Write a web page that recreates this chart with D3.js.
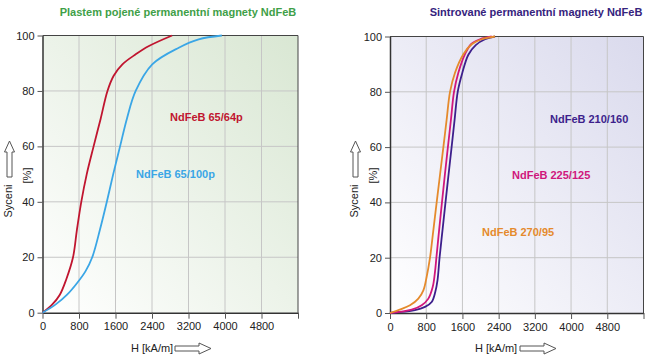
<!DOCTYPE html>
<html>
<head>
<meta charset="utf-8">
<script src="https://cdn.jsdelivr.net/npm/d3@7"></script>
<style>
  body { margin: 0; background: #fff; }
  svg { display: block; font-family: "Liberation Sans", Arial, sans-serif; }
</style>
</head>
<body>
<div id="chart"></div>
<script>
// tick values shared by both panels
var xTicks = [0, 800, 1600, 2400, 3200, 4000, 4800];
var yTicks = [0, 20, 40, 60, 80, 100];

// left panel: bonded magnets
var hRed = [0, 200, 380, 520, 669, 755, 850, 970, 1120, 1275, 1424, 1560, 1751, 2042, 2333, 2841];
var pRed = [0, 2.7, 6.5, 12, 20, 30, 40, 50, 60, 70, 80, 85.5, 89.6, 93.2, 96.2, 100];
var hBlue = [0, 290, 545, 763, 944, 1090, 1260, 1410, 1550, 1700, 1850, 2042, 2405, 2987, 3423, 3931];
var pBlue = [0, 3.0, 6.6, 10.8, 15, 20, 30, 40, 50, 60, 70, 80, 89.6, 95.6, 98.6, 100];

// right panel: sintered magnets
var hOrange = [0, 442, 626, 737, 810, 884, 958, 1031, 1105, 1179, 1252, 1326, 1436, 1621, 1805, 2026, 2320];
var pOrange = [0, 2.8, 5.2, 8.2, 13.1, 20, 30, 40, 50, 60, 70, 80, 86.9, 93.6, 97.2, 99, 100];
var hMagenta = [0, 479, 700, 847, 943, 990, 1025, 1085, 1148, 1212, 1279, 1347, 1414, 1510, 1657, 1790, 1989, 2247];
var pMagenta = [0, 1.2, 2.8, 5.2, 9.4, 14.3, 20, 30, 40, 50, 60, 70, 80, 86.9, 93.6, 97.2, 99, 100];
var hPurple = [0, 552, 773, 921, 1000, 1050, 1095, 1160, 1226, 1293, 1361, 1428, 1496, 1598, 1731, 1894, 2099, 2320];
var pPurple = [0, 1.0, 2.2, 4.0, 7.6, 11.9, 20, 30, 40, 50, 60, 70, 80, 86.9, 93.4, 96.9, 99, 100];

var svg = d3.select("#chart").append("svg")
    .attr("width", 650)
    .attr("height", 360);

var defs = svg.append("defs");

function zip(h, p) {
  return h.map(function(v, i) { return {h: v, p: p[i]}; });
}

function drawPanel(cfg) {
  var x = d3.scaleLinear().domain([0, 5600]).range([cfg.left, cfg.right]);
  var y = d3.scaleLinear().domain([0, 100]).range([cfg.bottom, cfg.top]);

  // background gradient
  var grad = defs.append("linearGradient")
      .attr("id", cfg.id + "-bg")
      .attr("x1", 0).attr("y1", 1).attr("x2", 1).attr("y2", 0);
  grad.append("stop").attr("offset", "0%").attr("stop-color", "#ffffff");
  grad.append("stop").attr("offset", "100%").attr("stop-color", cfg.bg);

  var g = svg.append("g");

  g.append("rect")
      .attr("x", cfg.left).attr("y", cfg.top)
      .attr("width", cfg.right - cfg.left)
      .attr("height", cfg.bottom - cfg.top)
      .attr("fill", "url(#" + cfg.id + "-bg)");

  // grid
  g.selectAll(".vgrid")
    .data(xTicks.slice(1))
    .enter().append("line")
      .attr("x1", function(d) { return x(d); })
      .attr("x2", function(d) { return x(d); })
      .attr("y1", cfg.top).attr("y2", cfg.bottom)
      .attr("stroke", "#c6c6c6").attr("stroke-width", 1);
  g.selectAll(".hgrid")
    .data(yTicks.slice(1, 5))
    .enter().append("line")
      .attr("y1", function(d) { return y(d); })
      .attr("y2", function(d) { return y(d); })
      .attr("x1", cfg.left).attr("x2", cfg.right)
      .attr("stroke", "#c6c6c6").attr("stroke-width", 1);

  // frame top + right
  g.append("path")
      .attr("d", "M" + cfg.left + "," + cfg.top + "H" + cfg.right + "V" + cfg.bottom)
      .attr("fill", "none").attr("stroke", "#444").attr("stroke-width", 1);

  // axes
  var xAxis = d3.axisBottom(x).tickValues(xTicks.concat([5600]))
      .tickFormat(function(d) { return d === 5600 ? "" : d; })
      .tickSize(6).tickSizeOuter(0).tickPadding(4);
  var yAxis = d3.axisLeft(y).tickValues(yTicks)
      .tickSize(5).tickSizeOuter(0).tickPadding(3);

  var gx = g.append("g").attr("transform", "translate(0," + cfg.bottom + ")").call(xAxis);
  var gy = g.append("g").attr("transform", "translate(" + cfg.left + ",0)").call(yAxis);
  [gx, gy].forEach(function(a) {
    a.select(".domain").attr("stroke", "#333").attr("stroke-width", 1.5);
    a.selectAll(".tick line").attr("stroke", "#555");
    a.selectAll(".tick text").attr("fill", "#222").style("font-size", "11px")
      .style("font-family", "'Liberation Sans', Arial, sans-serif");
  });

  // curves
  var line = d3.line()
      .x(function(d) { return x(d.h); })
      .y(function(d) { return y(d.p); })
      .curve(d3.curveCatmullRom.alpha(0.5));

  cfg.series.forEach(function(s) {
    g.append("path")
        .datum(zip(s.h, s.p))
        .attr("d", line)
        .attr("fill", "none")
        .attr("stroke", s.color)
        .attr("stroke-width", 1.8);
    g.append("text")
        .attr("x", s.lx).attr("y", s.ly)
        .attr("dy", "0.35em")
        .attr("fill", s.color)
        .style("font-size", "11px")
        .style("font-weight", "bold")
        .text(s.name);
  });

  // title
  svg.append("text")
      .attr("x", cfg.titleX).attr("y", 12)
      .attr("dy", "0.35em")
      .attr("text-anchor", "middle")
      .attr("fill", cfg.titleColor)
      .style("font-size", "11px")
      .style("font-weight", "bold")
      .text(cfg.title);

  // x axis title + arrow
  svg.append("text")
      .attr("x", cfg.xLabelX).attr("y", 348)
      .attr("dy", "0.35em")
      .attr("fill", "#222")
      .style("font-size", "11px")
      .text("H [kA/m]");
  var ax = cfg.xArrowX, ay = 348.5;
  svg.append("path")
      .attr("d", "M" + ax + "," + (ay - 2.5) + "H" + (ax + 24) + "V" + (ay - 5.5) +
                 "L" + (ax + 36) + "," + ay + "L" + (ax + 24) + "," + (ay + 5.5) +
                 "V" + (ay + 2.5) + "H" + ax + "Z")
      .attr("fill", "#fff").attr("stroke", "#555").attr("stroke-width", 1);

  // y axis title + arrow
  svg.append("text")
      .attr("transform", "translate(" + cfg.sycX + ",201) rotate(-90)")
      .attr("dy", "0.35em")
      .attr("text-anchor", "middle")
      .attr("fill", "#222")
      .style("font-size", "11px")
      .text("Syceni");
  svg.append("text")
      .attr("transform", "translate(" + cfg.pctX + ",175.5) rotate(-90)")
      .attr("dy", "0.35em")
      .attr("text-anchor", "middle")
      .attr("fill", "#222")
      .style("font-size", "11px")
      .text("[%]");
  var vx = cfg.sycX + 1, vy = 141;
  svg.append("path")
      .attr("d", "M" + vx + "," + vy + "L" + (vx + 5) + "," + (vy + 11) + "H" + (vx + 2.5) +
                 "V" + (vy + 36) + "H" + (vx - 2.5) + "V" + (vy + 11) + "H" + (vx - 5) + "Z")
      .attr("fill", "#fff").attr("stroke", "#555").attr("stroke-width", 1);
}

drawPanel({
  id: "left", left: 42.5, right: 298, top: 35.5, bottom: 312.7,
  bg: "#d9e7d3",
  title: "Plastem pojené permanentní magnety NdFeB", titleX: 178, titleColor: "#3f9f48",
  xLabelX: 131, xArrowX: 175, sycX: 8.5, pctX: 27,
  series: [
    {name: "NdFeB 65/64p", h: hRed, p: pRed, color: "#c0152f", lx: 170, ly: 117},
    {name: "NdFeB 65/100p", h: hBlue, p: pBlue, color: "#3aa6e6", lx: 136, ly: 174.5}
  ]
});

drawPanel({
  id: "right", left: 390, right: 643.5, top: 36.5, bottom: 313,
  bg: "#dadaed",
  title: "Sintrované permanentní magnety NdFeB", titleX: 536, titleColor: "#35237d",
  xLabelX: 475, xArrowX: 520, sycX: 354.5, pctX: 373,
  series: [
    {name: "NdFeB 210/160", h: hPurple, p: pPurple, color: "#3d1f8c", lx: 550, ly: 119.5},
    {name: "NdFeB 225/125", h: hMagenta, p: pMagenta, color: "#d0177c", lx: 512, ly: 175.5},
    {name: "NdFeB 270/95", h: hOrange, p: pOrange, color: "#e58a2c", lx: 482, ly: 232}
  ]
});
</script>
</body>
</html>
